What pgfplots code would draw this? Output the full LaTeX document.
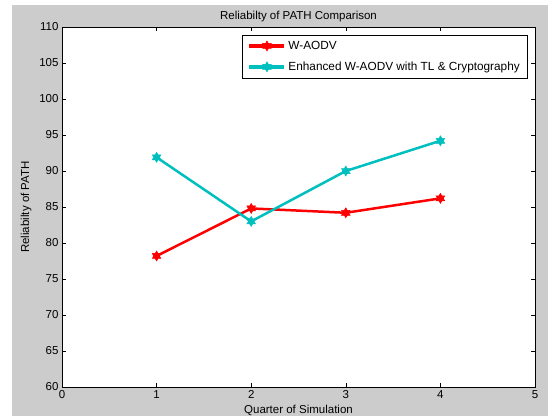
\documentclass[border=0pt]{standalone}
\usepackage{fontspec}
\setmainfont{Liberation Sans}
\usepackage{pgfplots}
\pgfplotsset{compat=1.18}
\definecolor{figgray}{RGB}{204,204,204}
\definecolor{mcyan}{RGB}{0,191,191}
\pgfdeclareplotmark{hexagram}{%
  \pgfpathmoveto{\pgfqpointpolar{90}{\pgfplotmarksize}}%
  \pgfpathlineto{\pgfqpointpolar{210}{\pgfplotmarksize}}%
  \pgfpathlineto{\pgfqpointpolar{330}{\pgfplotmarksize}}%
  \pgfpathclose
  \pgfpathmoveto{\pgfqpointpolar{270}{\pgfplotmarksize}}%
  \pgfpathlineto{\pgfqpointpolar{30}{\pgfplotmarksize}}%
  \pgfpathlineto{\pgfqpointpolar{150}{\pgfplotmarksize}}%
  \pgfpathclose
  \pgfusepathqfillstroke}
\newcommand{\ff}{\fontsize{11.5pt}{13.5pt}\selectfont}
\newcommand{\lf}{\fontsize{11.8pt}{13.8pt}\selectfont}
\begin{document}
\begin{tikzpicture}[x=1pt,y=1pt,font=\ff]
\fill[white] (0,0) rectangle (548,416);
\fill[figgray] (12,0) rectangle (548,411);
\useasboundingbox (0,0) rectangle (548,416);
\begin{axis}[
  overlay,
  at={(62pt,29pt)}, anchor=south west,
  scale only axis, width=473pt, height=360pt,
  xmin=0, xmax=5, ymin=60, ymax=110,
  xtick={0,1,2,3,4,5}, ytick={60,65,...,110},
  tick align=inside, major tick length=4pt,
  tick style={black, thin},
  axis line style={black, thin},
  axis background/.style={fill=white},
  /pgf/number format/assume math mode=true,
  tick label style={font=\ff},
  label style={font=\ff},
  title style={font=\ff, yshift=-4pt},
  title={Reliabilty of PATH Comparison},
  xlabel={Quarter of Simulation},
  ylabel={Reliabilty of PATH},
  xlabel style={yshift=0pt},
  ylabel style={yshift=1pt},
  legend style={at={(0.983,0.978)}, anchor=north east, draw=black, fill=white,
    font=\lf, row sep=7pt, inner sep=3pt, inner ysep=4pt, inner xsep=5pt},
  legend cell align=left,
  legend image code/.code={%
    \draw[#1, line width=4pt, mark=none] (0pt,0pt) -- (35pt,0pt);
    \draw[#1, only marks] plot coordinates {(17.5pt,0pt)};},
]
\addplot[red, line width=2.5pt, mark=hexagram, mark size=5pt, mark options={fill=red, line width=0.5pt}]
  coordinates {(1,78.2) (2,84.8) (3,84.2) (4,86.2)};
\addlegendentry{W-AODV}
\addplot[mcyan, line width=2.5pt, mark=hexagram, mark size=5pt, mark options={fill=mcyan, line width=0.5pt}]
  coordinates {(1,91.9) (2,83.0) (3,90.0) (4,94.2)};
\addlegendentry{Enhanced W-AODV with TL \& Cryptography}
\end{axis}
\end{tikzpicture}
\end{document}
